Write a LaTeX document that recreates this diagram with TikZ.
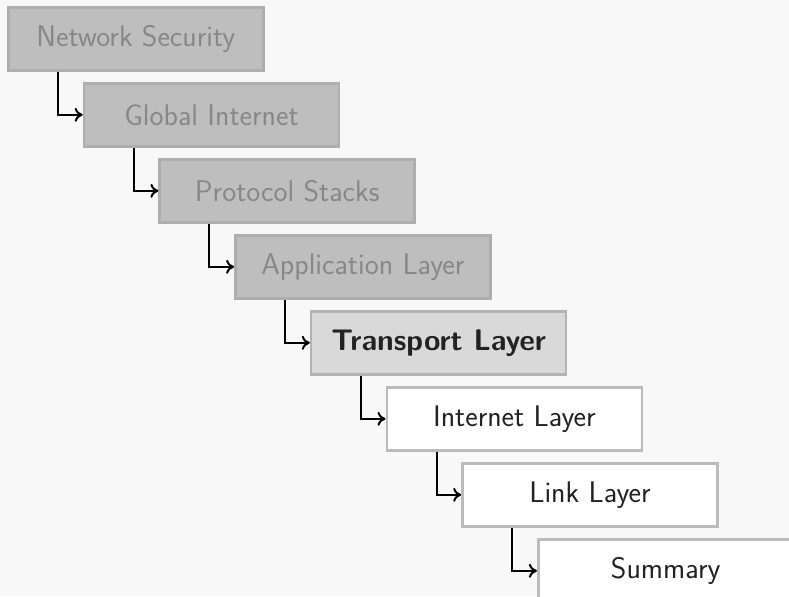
\documentclass[tikz,border=0pt]{standalone}
\usepackage{fontspec}
\setmainfont{Latin Modern Sans}
\usetikzlibrary{arrows.meta}
\definecolor{bg}{HTML}{F8F8F8}
\definecolor{donefill}{HTML}{BEBEBE}
\definecolor{donedraw}{HTML}{AEAEAE}
\definecolor{donetext}{HTML}{878787}
\definecolor{curfill}{HTML}{D9D9D9}
\definecolor{curdraw}{HTML}{B3B3B3}
\definecolor{nextdraw}{HTML}{BBBBBB}
\definecolor{darktext}{HTML}{222222}
\tikzset{
  box/.style={draw, line width=1.3pt, minimum width=127.5pt, minimum height=31.5pt,
    anchor=north west, inner sep=0pt, font=\fontsize{14.9}{17}\selectfont},
  donebox/.style={box, fill=donefill, draw=donedraw, text=donetext},
  curbox/.style={box, fill=curfill, draw=curdraw, text=darktext, font=\fontsize{14.9}{17}\selectfont\bfseries},
  nextbox/.style={box, fill=white, draw=nextdraw, text=darktext},
  link/.style={draw=black, line width=1pt, -{To[length=4pt,width=7pt]}}
}
\begin{document}
\begin{tikzpicture}[x=0.5pt,y=-0.5pt]
\fill[bg] (0,0) rectangle (789,596);
\useasboundingbox (0,0) rectangle (789,596);
\begin{scope}
\clip (0,0) rectangle (789,596);
\node[donebox] (n1) at (7,6) {Network Security};
\node[donebox] (n2) at (82.7,82) {Global Internet};
\node[donebox] (n3) at (158.4,158) {Protocol Stacks};
\node[donebox] (n4) at (234.1,234) {Application Layer};
\node[curbox]  (n5) at (309.8,310) {Transport Layer};
\node[nextbox] (n6) at (385.5,386) {Internet Layer};
\node[nextbox] (n7) at (461.2,462) {Link Layer};
\node[nextbox] (n8) at (536.9,538) {Summary};
\foreach \a/\b in {n1/n2,n2/n3,n3/n4,n4/n5,n5/n6,n6/n7,n7/n8}{
  \draw[link] ([xshift=25.5pt]\a.south west) |- (\b.west);
}
\end{scope}
\end{tikzpicture}
\end{document}
